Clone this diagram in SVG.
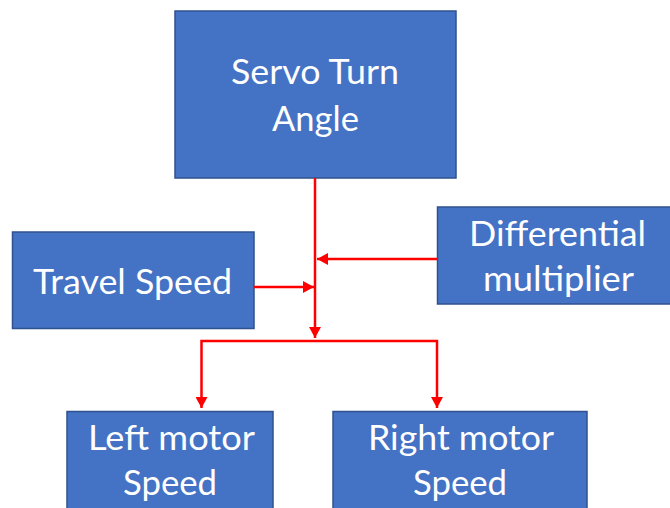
<svg xmlns="http://www.w3.org/2000/svg" width="670" height="508" viewBox="0 0 670 508">
<style>
.box{fill:#4472C4;stroke:#2F528F;stroke-width:1.5}
.lbl{font-family:Lato,"Open Sans","Liberation Sans",sans-serif;font-size:35px;fill:#FFFFFF;text-anchor:middle}
.con{fill:none;stroke:#FF0000;stroke-width:2.5}
</style>
<defs>
<marker id="ah" markerWidth="12" markerHeight="12" refX="11" refY="6" orient="auto" markerUnits="userSpaceOnUse">
<path d="M0,0 L11,6 L0,12 Z" fill="#FF0000"/>
</marker>
</defs>
<rect width="670" height="508" fill="#FFFFFF"/>
<g id="servo">
<rect class="box" x="175" y="11" width="281" height="167"/>
<text class="lbl" x="315" y="84" textLength="168" lengthAdjust="spacingAndGlyphs">Servo Turn</text>
<text class="lbl" x="315.5" y="131" textLength="87" lengthAdjust="spacingAndGlyphs">Angle</text>
</g>
<g id="travel">
<rect class="box" x="12.5" y="232" width="241.5" height="96.5"/>
<text class="lbl" x="132.5" y="294" textLength="199" lengthAdjust="spacingAndGlyphs">Travel Speed</text>
</g>
<g id="differential">
<rect class="box" x="437.5" y="207" width="240" height="97"/>
<text class="lbl" x="557.5" y="246" textLength="177" lengthAdjust="spacingAndGlyphs">Differential</text>
<text class="lbl" x="558.5" y="291" textLength="151" lengthAdjust="spacingAndGlyphs">multiplier</text>
</g>
<g id="left">
<rect class="box" x="67" y="411.5" width="206" height="110"/>
<text class="lbl" x="171.5" y="450" textLength="167" lengthAdjust="spacingAndGlyphs">Left motor</text>
<text class="lbl" x="170" y="495" textLength="94" lengthAdjust="spacingAndGlyphs">Speed</text>
</g>
<g id="right">
<rect class="box" x="333" y="411.5" width="254" height="110"/>
<text class="lbl" x="461" y="450" textLength="186" lengthAdjust="spacingAndGlyphs">Right motor</text>
<text class="lbl" x="460" y="495" textLength="94" lengthAdjust="spacingAndGlyphs">Speed</text>
</g>
<g id="connectors">
<path class="con" d="M315,178 V338" marker-end="url(#ah)"/>
<path class="con" d="M254,287 H314" marker-end="url(#ah)"/>
<path class="con" d="M437.5,259 H317" marker-end="url(#ah)"/>
<path class="con" d="M315,341 H201.5 V408" marker-end="url(#ah)"/>
<path class="con" d="M315,341 H437 V408" marker-end="url(#ah)"/>
</g>
</svg>
